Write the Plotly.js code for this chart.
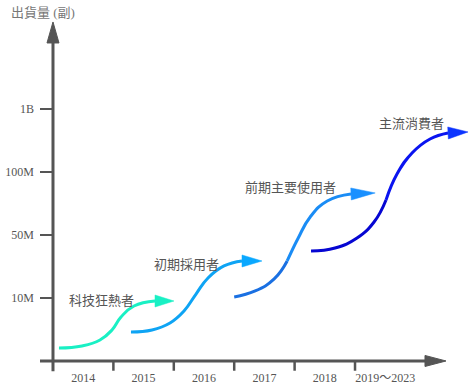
<!DOCTYPE html>
<html><head><meta charset="utf-8">
<script src="https://cdn.plot.ly/plotly-3.0.1.min.js"></script>
<style>html,body{margin:0;padding:0;background:#fff}#chart{width:471px;height:387px}</style>
</head><body><div id="chart"></div>
<script>
// ---- data ----
const categories = ['2014', '2015', '2016', '2017', '2018', '2019～2023'];
const yTickVals = [1, 2, 3, 4];
const yTickText = ['10M', '50M', '100M', '1B'];
const segmentNames = ['科技狂熱者', '初期採用者', '前期主要使用者', '主流消費者'];
// x in category units (2014 = 0), y in tick units (10M = 1); last point is the arrow tip
const curve1X = [-0.401, -0.020, 0.278, 0.477, 0.626, 0.841, 1.189, 1.503];
const curve1Y = [0.206, 0.238, 0.333, 0.492, 0.698, 0.873, 0.952, 0.952];
const curve2X = [0.791, 1.139, 1.437, 1.669, 1.868, 2.066, 2.331, 2.629, 2.960];
const curve2Y = [0.460, 0.492, 0.603, 0.794, 1.063, 1.317, 1.508, 1.587, 1.587];
const curve3X = [2.500, 2.848, 3.162, 3.377, 3.560, 3.758, 4.040, 4.434, 4.834];
const curve3Y = [1.016, 1.111, 1.302, 1.587, 1.952, 2.286, 2.540, 2.651, 2.667];
const curve4X = [3.772, 4.169, 4.533, 4.815, 5.013, 5.195, 5.444, 5.742, 6.040, 6.371];
const curve4Y = [1.746, 1.794, 1.952, 2.206, 2.556, 2.968, 3.302, 3.524, 3.619, 3.635];
const curveColors = [['#19f0c4'], ['#0ea4f4'], ['#1a70e2', '#1a8cf5'], ['#0606d2', '#0a14f0']];
const arrowColors = ['#19f0c4', '#0aa8ff', '#1a90ff', '#0c34ff'];

// ---- layout geometry ----
const W = 471, H = 387;
const margin = {l: 40, r: 0, t: 18, b: 15};
const xRange = [-0.715, 6.42];
const yRange = [-0.175, 5.444];
const kx = (W - margin.l - margin.r) / (xRange[1] - xRange[0]); // px per x unit
const ky = (H - margin.t - margin.b) / (yRange[1] - yRange[0]); // px per y unit
const axisColor = '#555';
const serif = '"Liberation Serif", "Times New Roman", serif';

const curves = [[curve1X, curve1Y], [curve2X, curve2Y], [curve3X, curve3Y], [curve4X, curve4Y]];
const traces = [];
curves.forEach(([xs, ys], i) => {
  const n = xs.length;
  const lx = xs.slice(0, n - 1), ly = ys.slice(0, n - 1);
  const cols = curveColors[i];
  const m = lx.length;
  const lineStyle = c => ({color: c, width: 3, shape: 'spline', smoothing: 1.3});
  if (cols.length === 1) {
    traces.push({x: lx, y: ly, mode: 'lines', line: lineStyle(cols[0]), hoverinfo: 'skip', showlegend: false});
  } else {
    const k = Math.floor((m - 1) / 2);
    traces.push({x: lx.slice(0, k + 1), y: ly.slice(0, k + 1), mode: 'lines', line: lineStyle(cols[0]), hoverinfo: 'skip', showlegend: false});
    traces.push({x: lx.slice(k), y: ly.slice(k), mode: 'lines', line: lineStyle(cols[1]), hoverinfo: 'skip', showlegend: false});
  }
  // arrowhead: triangle from base (last line point) to tip
  const bx = xs[n - 2], by = ys[n - 2], tx = xs[n - 1], ty = ys[n - 1];
  const dx = (tx - bx) * kx, dy = (ty - by) * ky;
  const L = Math.hypot(dx, dy);
  const nx = -dy / L, ny = dx / L, h = 6;
  const ac = arrowColors[i];
  traces.push({
    x: [bx + nx * h / kx, tx, bx - nx * h / kx, bx + nx * h / kx],
    y: [by + ny * h / ky, ty, by - ny * h / ky, by + ny * h / ky],
    mode: 'lines', fill: 'toself', fillcolor: ac,
    line: {color: ac, width: 0.5}, hoverinfo: 'skip', showlegend: false
  });
});

// axes drawn as shapes (with arrows)
const yAxisX = -0.5;
const shapes = [];
const xArrowTip = 6.006, xArrowLen = 21 / kx, xArrowHalf = 5.5 / ky;
const yArrowTip = 5.381, yArrowLen = 21 / ky, yArrowHalf = 6 / kx;
shapes.push({type: 'line', xref: 'x', yref: 'y', x0: xRange[0], x1: xArrowTip - xArrowLen + 0.02, y0: 0, y1: 0, line: {color: axisColor, width: 3}});
shapes.push({type: 'path', xref: 'x', yref: 'y', path: `M ${xArrowTip - xArrowLen},${xArrowHalf} L ${xArrowTip},0 L ${xArrowTip - xArrowLen},${-xArrowHalf} Z`, fillcolor: axisColor, line: {color: axisColor, width: 1}});
shapes.push({type: 'line', xref: 'x', yref: 'y', x0: yAxisX, x1: yAxisX, y0: yRange[0] + 0.01, y1: yArrowTip - yArrowLen + 0.02, line: {color: axisColor, width: 3}});
shapes.push({type: 'path', xref: 'x', yref: 'y', path: `M ${yAxisX - yArrowHalf},${yArrowTip - yArrowLen} L ${yAxisX},${yArrowTip} L ${yAxisX + yArrowHalf},${yArrowTip - yArrowLen} Z`, fillcolor: axisColor, line: {color: axisColor, width: 1}});
for (let i = 0; i < categories.length - 1; i++) {
  shapes.push({type: 'line', xref: 'x', yref: 'y', x0: i + 0.5, x1: i + 0.5, y0: 0, y1: yRange[0] + 0.02, line: {color: axisColor, width: 2.5}});
}

const labelPos = [[-0.268, 0.968], [1.139, 1.54], [2.646, 2.762], [4.864, 3.778]];
const annotations = segmentNames.map((t, i) => ({
  x: labelPos[i][0], y: labelPos[i][1], xref: 'x', yref: 'y', text: t, showarrow: false,
  xanchor: 'left', yanchor: 'middle', font: {family: '"Noto Sans CJK TC", sans-serif', size: 13, color: '#555'}
}));

const layout = {
  width: W, height: H, margin: margin,
  paper_bgcolor: '#fff', plot_bgcolor: '#fff',
  showlegend: false,
  title: {text: '出貨量 (副)', x: 11 / W, xanchor: 'left', y: 1 - 12 / H, yanchor: 'middle',
          font: {family: serif + ', "Noto Sans CJK TC"', size: 13, color: '#777'}},
  xaxis: {range: xRange, tickvals: categories.map((c, i) => i), ticktext: categories,
          ticks: '', ticklabelstandoff: -3, showgrid: false, zeroline: false, showline: false, fixedrange: true,
          tickfont: {family: serif + ', "Noto Sans CJK TC"', size: 12, color: '#555'}},
  yaxis: {range: yRange, tickvals: yTickVals, ticktext: yTickText,
          ticks: 'inside', ticklen: 13, tickwidth: 2, tickcolor: axisColor, ticklabelstandoff: 5,
          showgrid: false, zeroline: false, showline: false, fixedrange: true,
          tickfont: {family: serif, size: 12, color: '#555'}},
  shapes: shapes, annotations: annotations
};
Plotly.newPlot('chart', traces, layout, {displayModeBar: false, staticPlot: true});
</script></body></html>
